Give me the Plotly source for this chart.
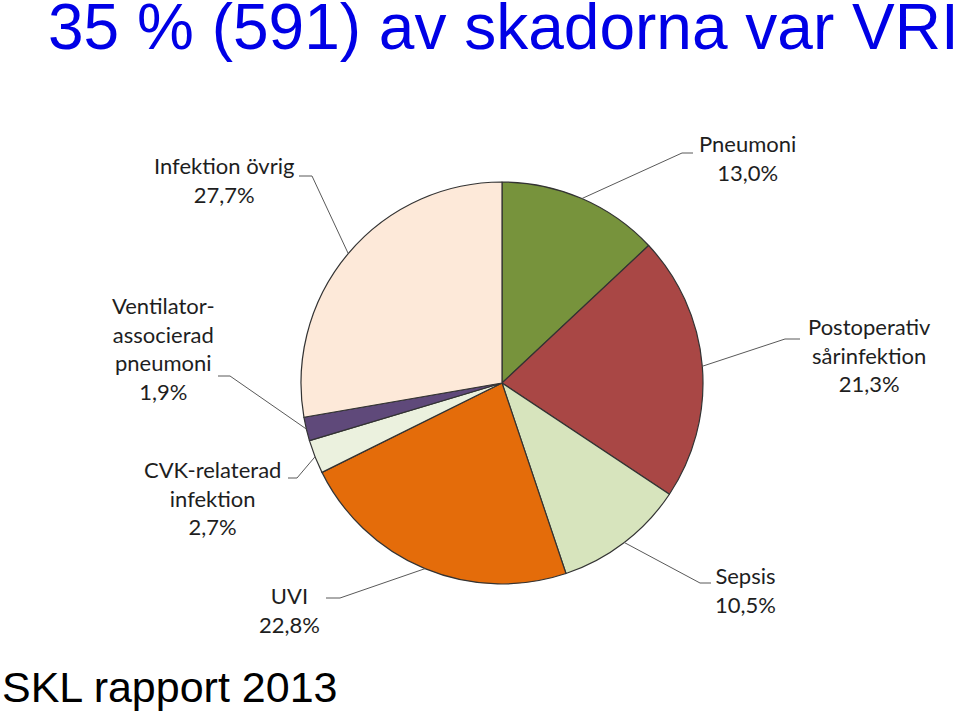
import math
import plotly.graph_objects as go

W, H = 960, 713

# ---- data ----
categories = ["Pneumoni", "Postoperativ sårinfektion", "Sepsis", "UVI",
              "CVK-relaterad infektion", "Ventilator-associerad pneumoni", "Infektion övrig"]
values = [13.0, 21.3, 10.5, 22.8, 2.7, 1.9, 27.7]
label_lines = [["Pneumoni"], ["Postoperativ", "sårinfektion"], ["Sepsis"], ["UVI"],
               ["CVK-relaterad", "infektion"], ["Ventilator-", "associerad", "pneumoni"],
               ["Infektion övrig"]]
colors = ["#77933C", "#A94745", "#D7E4BD", "#E46C0A", "#EBF1DE", "#5F497A", "#FDE9D9"]
title_text = "35 % (591) av skadorna var VRI"
source_text = "SKL rapport 2013"

# ---- layout (pixel geometry) ----
cx, cy, R = 502, 383, 201
# label placement: (text x, text y of first line, xanchor, elbow point, horizontal end point)
label_pos = [
    (697, 140, "left", (682, 153), (693, 153)),
    (806, 323, "left", (785, 339), (800, 339)),
    (713, 572, "left", (700, 583), (711, 583)),
    (322, 592, "right", (340, 598), (326, 598)),
    (283, 466, "right", (297, 478), (288, 478)),
    (217, 302, "right", (230, 376), (218, 376)),
    (296, 162, "right", (312, 176), (299, 176)),
]

def px(x):
    return x / W

def py(y):
    return 1 - y / H

fig = go.Figure()
fig.add_trace(go.Pie(
    labels=categories, values=values, sort=False, direction="clockwise", rotation=0,
    marker=dict(colors=colors, line=dict(color="#333333", width=1.2)),
    textinfo="none", hoverinfo="label+percent", showlegend=False,
    domain=dict(x=[px(cx - R), px(cx + R)], y=[py(cy + R), py(cy - R)]),
))

total = sum(values)
cum = 0.0
shapes = []
annotations = []
fontfam = "Lato, Carlito, Calibri, sans-serif"
for i, v in enumerate(values):
    mid = (cum + v / 2) / total * 2 * math.pi
    cum += v
    ax = cx + R * math.sin(mid)
    ay = cy - R * math.cos(mid)
    tx, ty, anchor, elbow, hend = label_pos[i]
    shapes.append(dict(type="path", xref="paper", yref="paper",
                       path=f"M {px(ax)},{py(ay)} L {px(elbow[0])},{py(elbow[1])} L {px(hend[0])},{py(hend[1])}",
                       line=dict(color="#595959", width=1)))
    lines = label_lines[i] + [f"{v:.1f}%".replace(".", ",")]
    annotations.append(dict(
        text="<br>".join(lines), x=px(tx), y=py(ty - 12), xref="paper", yref="paper",
        xanchor=anchor, yanchor="top", align="center", showarrow=False,
        font=dict(family=fontfam, size=22, color="#1e1e1e"),
    ))

annotations.append(dict(text=title_text, x=px(46), y=py(27), xref="paper", yref="paper",
                        xanchor="left", yanchor="middle", showarrow=False,
                        font=dict(family="Liberation Sans, Arial, sans-serif", size=64, color="#0000E6")))
annotations.append(dict(text=source_text, x=px(0), y=py(687), xref="paper", yref="paper",
                        xanchor="left", yanchor="middle", showarrow=False,
                        font=dict(family="Liberation Sans, Arial, sans-serif", size=43, color="#000000")))

fig.update_layout(width=W, height=H, margin=dict(l=0, r=0, t=0, b=0),
                  paper_bgcolor="white", plot_bgcolor="white",
                  shapes=shapes, annotations=annotations)
fig.write_html("out.html")
